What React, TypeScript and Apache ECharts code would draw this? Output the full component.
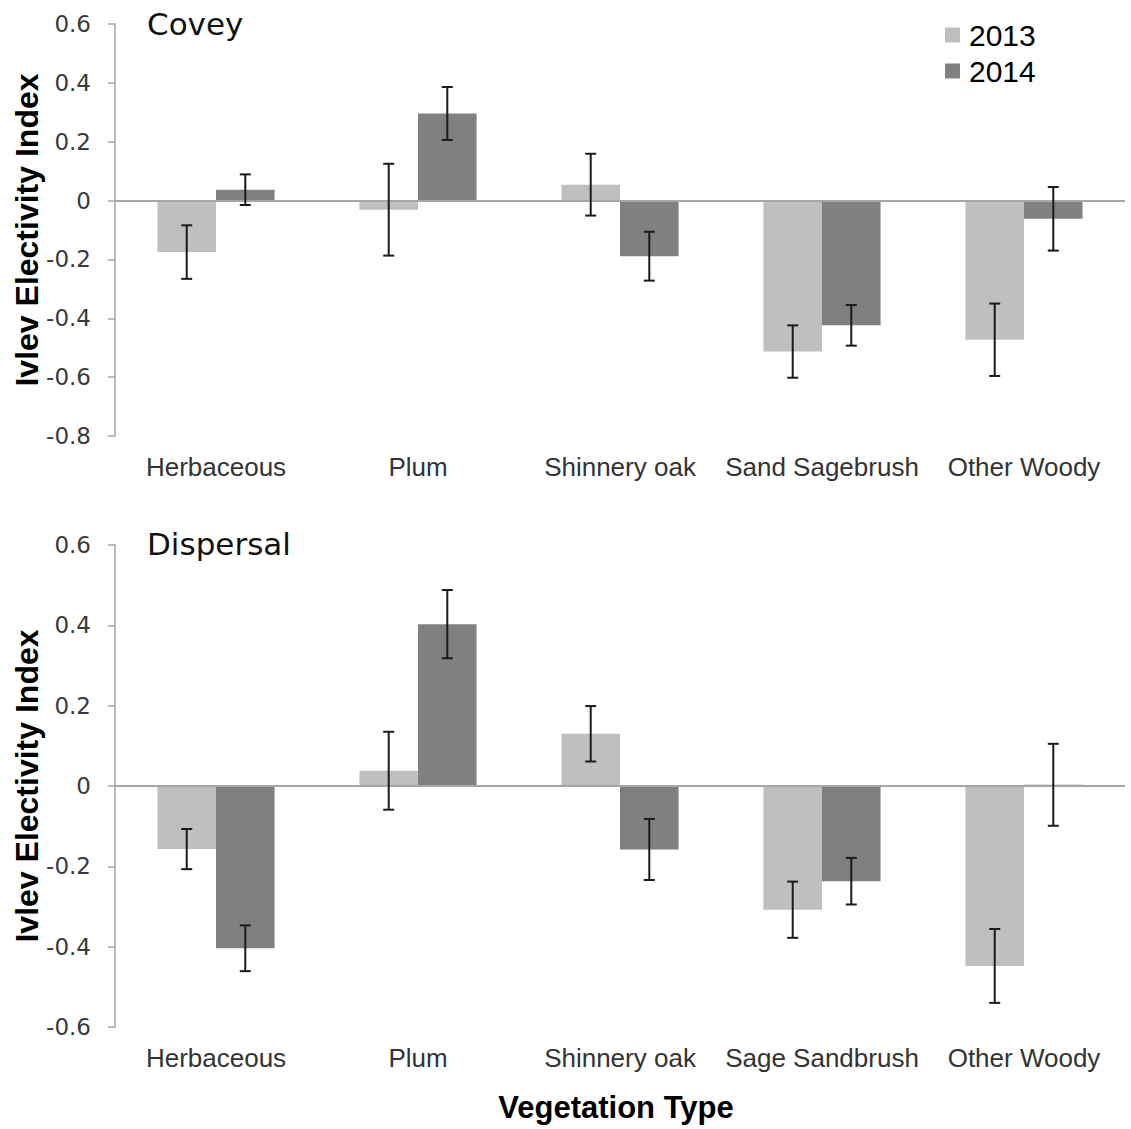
import React, { useEffect, useRef } from "react";
import * as echarts from "echarts";

// Vegetation classes for each panel
const coveyCategories = ["Herbaceous", "Plum", "Shinnery oak", "Sand Sagebrush", "Other Woody"];
const dispersalCategories = ["Herbaceous", "Plum", "Shinnery oak", "Sage Sandbrush", "Other Woody"];

// Covey period: mean Ivlev index and standard error per year
const covey2013 = [-0.175, -0.031, 0.054, -0.513, -0.473];
const covey2013Err = [0.091, 0.156, 0.105, 0.089, 0.123];
const covey2014 = [0.037, 0.296, -0.189, -0.424, -0.062];
const covey2014Err = [0.052, 0.09, 0.083, 0.069, 0.108];

// Dispersal period
const dispersal2013 = [-0.157, 0.038, 0.13, -0.308, -0.448];
const dispersal2013Err = [0.05, 0.097, 0.069, 0.07, 0.092];
const dispersal2014 = [-0.404, 0.403, -0.158, -0.237, 0.003];
const dispersal2014Err = [0.057, 0.085, 0.076, 0.058, 0.102];

const years = ["2013", "2014"];
const coveyTicks = { min: -0.8, max: 0.6, interval: 0.2 };
const dispersalTicks = { min: -0.6, max: 0.6, interval: 0.2 };

const COLOR_2013 = "#bfbfbf";
const COLOR_2014 = "#808080";
const BAR_FRACTION = 0.29;

function errorData(means: number[], errs: number[], side: number) {
  return means.map((m, i) => [i, m - errs[i], m + errs[i], side]);
}

function renderError(params: any, api: any) {
  const idx = api.value(0);
  const lo = api.value(1);
  const hi = api.value(2);
  const side = api.value(3);
  const band = api.size([1, 0])[0];
  const off = (side * band * BAR_FRACTION) / 2;
  const pLo = api.coord([idx, lo]);
  const pHi = api.coord([idx, hi]);
  const x = pLo[0] + off;
  const cap = 5.5;
  const style = { stroke: "#1a1a1a", lineWidth: 2 };
  return {
    type: "group",
    children: [
      { type: "line", shape: { x1: x, y1: pLo[1], x2: x, y2: pHi[1] }, style },
      { type: "line", shape: { x1: x - cap, y1: pLo[1], x2: x + cap, y2: pLo[1] }, style },
      { type: "line", shape: { x1: x - cap, y1: pHi[1], x2: x + cap, y2: pHi[1] }, style },
    ],
  };
}

const fmt = (v: number) => (Math.abs(v) < 1e-9 ? "0" : v.toFixed(1));

function yAxis(gridIndex: number, ticks: { min: number; max: number; interval: number }) {
  return {
    type: "value",
    gridIndex,
    min: ticks.min,
    max: ticks.max,
    interval: ticks.interval,
    name: "Ivlev Electivity Index",
    nameLocation: "middle",
    nameGap: 72,
    nameMoveOverlap: false,
    nameTextStyle: { fontFamily: "Liberation Sans", fontWeight: "bold", fontSize: 32, color: "#000" },
    axisLine: { show: true, lineStyle: { color: "#a6a6a6", width: 1.5 } },
    axisTick: { show: true, inside: false, length: 7, lineStyle: { color: "#a6a6a6", width: 1.5 } },
    splitLine: { show: false },
    axisLabel: {
      formatter: fmt,
      margin: 24,
      fontFamily: "DejaVu Sans",
      fontSize: 23,
      color: "#3a3a3a",
    },
  };
}

function xAxis(gridIndex: number, cats: string[]) {
  return {
    type: "category",
    gridIndex,
    data: cats,
    axisLine: { show: false, onZero: false },
    axisTick: { show: false },
    axisLabel: {
      margin: 18,
      fontFamily: "Liberation Sans",
      fontSize: 26,
      color: "#333",
      interval: 0,
    },
  };
}

const zeroLine = {
  silent: true,
  symbol: ["none", "none"],
  label: { show: false },
  lineStyle: { color: "#a6a6a6", width: 2, type: "solid" },
  data: [{ yAxis: 0 }],
};

function barSeries(name: string, color: string, data: number[], axis: number, withZero: boolean) {
  return {
    type: "bar",
    name,
    xAxisIndex: axis,
    yAxisIndex: axis,
    data,
    barWidth: `${BAR_FRACTION * 100}%`,
    barGap: "0%",
    itemStyle: { color },
    ...(withZero ? { markLine: zeroLine } : {}),
  };
}

function errSeries(data: number[][], axis: number) {
  return {
    type: "custom",
    xAxisIndex: axis,
    yAxisIndex: axis,
    data,
    encode: { x: 0, y: [1, 2] },
    renderItem: renderError,
    z: 5,
  };
}

export default function App() {
  const ref = useRef<HTMLDivElement>(null);

  useEffect(() => {
    if (!ref.current) return;
    const chart = echarts.init(ref.current, undefined, { renderer: "svg" });
    chart.setOption({
      animation: false,
      backgroundColor: "#fff",
      grid: [
        { left: 115, right: 6, top: 24, height: 412, containLabel: false, outerBoundsMode: "none" },
        { left: 115, right: 6, top: 545, height: 482, containLabel: false, outerBoundsMode: "none" },
      ],
      legend: {
        data: years,
        orient: "vertical",
        left: 940,
        top: 15,
        icon: "rect",
        itemWidth: 15,
        itemHeight: 15,
        itemGap: 6,
        textStyle: { fontFamily: "Liberation Sans", fontSize: 30, color: "#000", padding: [0, 0, 0, 4] },
      },
      xAxis: [xAxis(0, coveyCategories), xAxis(1, dispersalCategories)],
      yAxis: [yAxis(0, coveyTicks), yAxis(1, dispersalTicks)],
      series: [
        barSeries(years[0], COLOR_2013, covey2013, 0, true),
        barSeries(years[1], COLOR_2014, covey2014, 0, false),
        errSeries(errorData(covey2013, covey2013Err, -1), 0),
        errSeries(errorData(covey2014, covey2014Err, 1), 0),
        barSeries(years[0], COLOR_2013, dispersal2013, 1, true),
        barSeries(years[1], COLOR_2014, dispersal2014, 1, false),
        errSeries(errorData(dispersal2013, dispersal2013Err, -1), 1),
        errSeries(errorData(dispersal2014, dispersal2014Err, 1), 1),
      ],
      graphic: [
        {
          type: "text",
          left: 147,
          top: 8,
          style: { text: "Covey", fontFamily: "DejaVu Sans", fontSize: 31, fill: "#111" },
        },
        {
          type: "text",
          left: 147,
          top: 528,
          style: { text: "Dispersal", fontFamily: "DejaVu Sans", fontSize: 31, fill: "#111" },
        },
        {
          type: "text",
          x: 616,
          y: 1107,
          style: {
            text: "Vegetation Type",
            fontFamily: "Liberation Sans",
            fontWeight: "bold",
            fontSize: 31,
            fill: "#000",
            align: "center",
            verticalAlign: "middle",
          },
        },
      ],
    });
    return () => chart.dispose();
  }, []);

  return (
    <div
      ref={ref}
      style={{ position: "fixed", left: 0, top: 0, width: 1131, height: 1129, background: "#fff" }}
    />
  );
}
